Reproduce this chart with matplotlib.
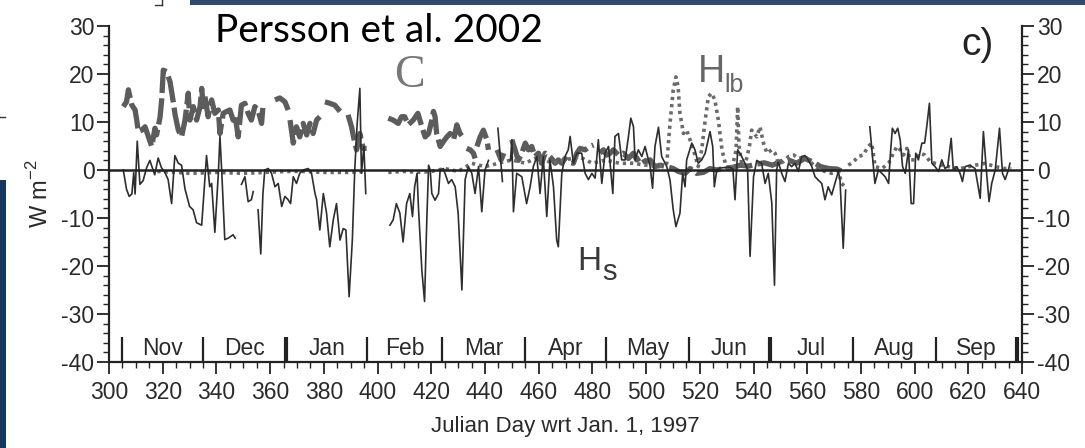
import numpy as np
import matplotlib as mpl
import matplotlib.pyplot as plt
from matplotlib.patches import Rectangle
from matplotlib.lines import Line2D
from matplotlib.ticker import MultipleLocator

mpl.rcParams['font.family'] = ['Liberation Sans', 'DejaVu Sans']
mpl.rcParams['axes.unicode_minus'] = False

nan = np.nan

# sensible heat flux H_s (thin solid), nan = gap
hs_day = [305.3, 306.5, 307.5, 308.5, 309.2, 309.7, 310.5, 311.5, 312.7, 314, 315.2, 317, 318.3, 319.5,
          320.8, 322, 323.3, 324.5, 325.8, 327, 328.3, 330, 331.3, 332.6, 334.5, 336.3, 337.5, 338.2,
          339.4, 340.7, 341.3, 342, 343.1, 344.4, 346.2, 347, 348,
          349.3, 350.6, 351.8, 353, 353.7, 354.5,
          355.5, 356.5, 357.3, 358, 359.3, 360.5, 361.8, 363, 364.3, 365.5, 366.7, 367.6, 368.6, 369.8,
          371, 372.3, 374.2, 375.4, 376.7, 377.3, 378.5, 379.8, 381, 382.2, 383.5, 384.7, 386, 387.2,
          388.2, 389.4, 390.6, 391.5, 392.4, 393.4, 394, 394.9, 395.6, 400,
          404.6, 405.8, 407, 408.3, 409.5, 410.8, 412, 413, 413.8, 414.7, 415.2, 416.5, 417.5, 418.3,
          419, 419.6, 420.2, 421.4, 422.7, 423.3, 424.5, 426.4, 427.6, 428.9, 430, 431.4, 432.6, 433.8,
          435.1, 436.3, 437.6, 438.8, 440, 441.3, 443,
          444.8, 446.5, 448,
          449.5, 450, 450.6, 451.8, 453.7, 455.5, 456.8, 458, 459.3, 460.5, 461.7, 463, 464.2, 465.5,
          466.7, 467.3, 468.6, 469.8, 471, 471.7, 472.9, 474.2, 476, 477.3, 478.5, 479.8, 481, 482.2,
          483.5, 484.7, 486, 487.6, 488.4, 489.7, 490.9, 492.2, 493.4, 494.3, 495.3, 495.9, 497.1,
          498.4, 499.6, 501.5, 502.4, 503.3, 504.6, 505.8, 507.7, 508.9, 510.1, 511.1, 512.6, 513.6,
          514.5, 515.1, 517, 518.2, 519.4, 520.7, 522, 523.8, 524.8, 525.4, 526.3, 527.5, 529, 531,
          532.3, 533.1, 534.1, 535.6, 536.8, 537.8, 538.7, 540, 541.2, 543, 544.3, 545.5, 546.8, 547.8,
          548.6, 549.2, 550.5, 551.7, 553, 554.2, 555.4, 556.7, 557.9, 559.2, 560.4, 561.7, 562.9,
          564.1, 565.4, 566.6, 567.8, 569.1, 570.3, 571.6, 572.2, 573.4, 574.3, 578,
          583.3, 585.2, 586.5, 587.8, 589, 590.3, 590.9, 591.7, 592.7, 593.7, 594.6, 595.5, 596.5,
          597.7, 598.7, 599.6, 600.4, 601.4, 602.7, 603.7, 604.5, 605.5, 606.4, 607.6, 608.9, 610.1,
          611.3, 612.3, 613.6, 614.4, 615.7, 616.9, 617.8, 618.8, 620.6, 622.5, 624.4, 625.6, 626.8,
          627.7, 628.7, 630, 631.6, 632.7, 633.7, 634.9, 635.5]
hs_val = [0, -4, -5.5, -5, -0.5, -5, 6, -3, -2.2, 0.5, 2, -1, 2.5, 0.5,
          -0.5, -2, -7, 3, 1.4, 1, -4, -7.6, -8.3, -11, -11.5, 3, -3.5, -2.8,
          -13, -0.7, 7, -0.7, -14.5, -14.2, -13.5, -14.2, nan,
          -3, -1.4, -6.6, -6.2, -4.5, nan,
          -8.3, -17.5, -5, 0, 0.3, -0.7, -3.5, -2.8, -7.6, -5.5, -6.2, -7, -1.4, -2.8,
          -0.7, 0, 0.3, -0.7, -4.9, -6.2, -12.5, -4.9, -9, -16, -10.4, -7, -14.6, -12.2,
          -12.5, -26.4, -14.6, 0, 9.7, 17, -0.7, 4.9, -4.9, nan,
          -11.5, -10.4, -7, -9, -15, -7, -4.9, -9.7, -3.5, -0.7, -7.6, -21, -27.4, -11,
          1, 0, -4.9, -6.3, -4.9, 0, 0.3, -2.8, -2, -3.5, -9, -25, -2, 0.7,
          -0.7, -4.9, 0.7, -8.7, 0, 2, nan,
          8.7, -2.4, nan,
          2, 6.3, -8.7, -0.7, -1.4, -7, -3.5, 0.7, 2.8, -4.9, 2.8, -9.7, 2.1, -3.5,
          -14.6, -16, -0.7, 2.8, 4.2, 7, 1.4, 3.5, 3.5, -0.7, -2, -0.7, -1.7, 6.3,
          -2.8, 3.5, 4.9, -4.9, 7, 7.6, 2.1, 2.1, 6.9, 10.8, 9, 2.1, 4.2,
          2.8, 4.9, 0.7, -3.8, 4.9, 8.9, 2.8, 0.7, -2.1, -8.3, -11.8, -9, -0.7,
          -3.5, 2.1, 5.6, 4.2, 1.4, 2.1, 3.5, 8, 4.9, -3.5, 0, 0.4, 0.5, 0.6,
          0.3, -6.2, 4.2, 2.8, 1.4, 0, -18, -1.4, 2, 1.4, -2.8, -0.7, -6.9, -24,
          0, 1.7, -0.7, -2.4, 1.4, 0.7, 1.4, -0.3, 2.8, 3, 2.1, 0.7, -1.4,
          -2.1, -2.8, -6.2, -3.5, -5.2, -2.8, -0.3, -2.1, -16.3, -4.2, nan,
          9, -2.8, 0, -0.7, -1.4, -2.8, 2.8, 8.7, 7.6, 8.7, 6.3, 0.7, -0.7,
          4.2, -7, -7, 3.5, 2.1, 5.6, 5.6, 9, 13.9, 1.4, 0.7, -0.3, 2.1,
          0.3, 0.7, 6.6, 0, 0.7, -0.7, -2.4, 0.7, 1, 0.3, -5.9, 8, -0.7,
          -6.6, -2.8, 0, 8.7, -0.7, -2, 0, 1.4]

# conductive flux C (thick dashed)
c_day = [305.3, 306.5, 307.2, 308.5, 309.7, 310.3, 310.9, 312.2, 313.4, 314.7, 315.9, 317.1, 317.7, 319,
         319.6, 320.2, 321.4, 322.7, 324, 324.6, 325.8, 327, 328.3, 329.5, 330.1, 331.4, 332.6, 333.9,
         334.5, 335.1, 335.7, 336.9, 338.2, 339.4, 340.7, 341.3, 342.5, 343.8, 345, 346.2, 346.9,
         348.1, 349.3, 350.6, 351.8, 353, 354.3, 355.5, 356.8, 357.4, 359,
         361.8, 363.6, 365.5, 366.7, 367,
         367.4, 368.6, 369.8, 371, 372.3, 373.6, 374.8, 376, 377.3, 378.5, 379.5,
         380.4, 382.2, 384.1, 386, 387.5,
         389, 390.3, 391.5, 392.2, 393.4, 394.6, 395.9, 400,
         404, 405.8, 407.7, 408.9, 410.1, 411.4, 413.3, 415, 416.5, 417.7, 419, 420.2, 420.8, 421.4,
         422, 423.3, 424.5, 425.8, 427, 428.3, 429.5, 430.7, 432, 432.6,
         433.2, 434.5, 435.7, 436.3, 436.6,
         437, 438.2, 439.4, 440.7, 441.3, 443,
         444.5, 446, 447, 448,
         450, 451.2, 452.4, 453.7, 455, 456.2, 457.4, 458.6, 459.9, 461.1, 462.4, 463.6, 464.8, 466.1,
         467.3, 468.6, 469.8, 471, 472.9, 474.2, 475.4, 477.3, 479.1, 480.4, 481.5,
         482.8, 484.1, 485.3, 486.6, 487.8, 489.7, 491.5, 493.4, 495.3, 496.5, 498.4, 499.6, 501.5,
         503.3, 505.2, 507.7, 510.1, 512, 514.5, 516.4, 518.8, 521.3, 523.8, 526.3, 529.4, 532, 535,
         538, 541, 544, 547, 550, 553, 556, 559, 562, 565, 568, 571, 574]
c_val = [13.2, 14.2, 16.7, 13.5, 12.5, 10.4, 8, 8.3, 9, 6.9, 4.9, 8.7, 7.3, 11,
         14.6, 20.8, 20.5, 18.4, 13.9, 11.5, 8.3, 6.9, 10.4, 16, 10.4, 13.2, 10.4, 13.2,
         17, 13.2, 15.3, 11.1, 14.6, 11.8, 12.5, 7.6, 11.8, 12.2, 12.5, 10.4, 11.5,
         6.9, 13.5, 13.9, 11.8, 10.4, 13.2, 12.5, 9.7, 13.9, nan,
         14.6, 15, 14.2, 12.5, nan,
         10.4, 5.6, 9, 6.9, 9.7, 7.3, 9.7, 7.6, 10.4, 11.1, nan,
         14.2, 13.9, 13.5, 12.2, nan,
         11.5, 9, 5.6, 4.2, 7.6, 4.5, 4.5, nan,
         10.8, 10.4, 9.7, 11.1, 11.1, 9.4, 10.4, 11.8, 9, 6.9, 7.6, 10.4, 12.2, 11.1,
         7.6, 4.9, 5.9, 6.9, 7.6, 6.3, 9.4, 7.6, 6.6, nan,
         4.5, 4.2, 3.5, 2.4, nan,
         4.9, 6.9, 8.3, 6.3, 4.2, nan,
         4.2, 2.1, 3.5, nan,
         6.3, 4.2, 2, 3.5, 5.6, 4.2, 4.9, 2.8, 3.5, 1.4, 3.5, 3.1, 2.4, 1.4,
         2.1, 1.4, 2.4, 1.7, 1.4, 3.5, 4.5, 4.2, 4.9, 5.2, nan,
         3.5, 4.2, 3.1, 3.5, 4.2, 3.1, 3.5, 2.4, 3.5, 2.1, 2.8, 1.7, 2.1,
         0.7, 1.0, 0.7, 0.3, -0.3, -0.7, 0.3, -0.7, -0.5, 0.3, 0, 0.4, 0.5, 1,
         0.8, 1.2, 1.5, 1.0, 1.7, 2.1, 1.4, 2.4, 1.7, 0.7, 0.3, 0.2, -0.5]

# longwave / latent flux H_lb (dotted)
hlb_day = [318, 325, 330, 340, 350, 358, 366, 372, 380, 390, 395, 400,
           404, 410, 416, 420, 425, 430, 435, 440, 445, 450, 455, 460, 465, 470, 475, 480, 485, 490,
           495, 500, 505, 507.7, 508.9, 510.1, 511.1, 511.9, 512.6, 513.9, 515.1, 516.4, 517.6, 519.4,
           520.7, 522, 523.2, 524.4, 525.6, 526.9, 528.1, 528.7, 530, 532, 533.5, 534.1, 534.6, 535.8,
           537, 538.5, 539.3, 541.2, 542.4, 543.7, 545, 546.8, 548, 549.2, 551, 553, 555, 557, 559.2,
           561.7, 564.1, 566.6, 569.1, 571.6, 572.8, 574.1, 574.7,
           575.3, 577.2, 579, 580.8, 582.7, 584, 585.3, 587.8, 590.3, 592.1, 593.4, 594.6, 595.8,
           597.1, 598.3, 600.2, 602, 603.9, 605.8, 607.6, 610, 612.6, 617, 622.5, 626.2, 630, 633.7, 636]
hlb_val = [-0.3, -0.5, -0.7, -0.5, -0.7, -0.5, -0.3, -0.3, -0.5, -0.5, -0.3, nan,
           -0.5, -0.3, -0.5, -0.3, 0.3, -0.3, 1.4, 0.7, 1.4, 2.1, 1.4, 2.8, 1.4, 2.1, 2.8, 1.4, 2.1, 1.4,
           1.4, 1.0, 0.7, 1.4, 9.7, 16.7, 19.4, 17.4, 11.8, 7.6, 8.3, 6.2, 4.2, 0.7,
           4.2, 10.4, 15.3, 16, 14.6, 10.4, 4.9, 3.1, 0.4, 0.3, 4.2, 13.2, 4.9, 0.7,
           1.4, 5, 8.3, 6.9, 9, 5.6, 3.5, 4.2, 3.5, 1.4, 1.7, 2.8, 3.1, 2.4, 2.8,
           1.4, 0.3, -0.3, -0.7, -0.3, -2.8, -3.5, nan,
           1.0, 1.7, 2.8, 3.1, 4.9, 5.6, 0.7, 0.3, 1.4, 3.5, 4.9, 4.2, 3.1,
           4.5, 2.1, 2.1, 3.5, 3.1, 1.7, 1.4, 1.0, 0.7, 0.3, 1.0, 1.4, 0.7, 0.3, 0.3]

# month boundaries (day of 1997) and labels
month_edges = [305, 335, 366, 396, 424, 455, 485, 516, 546, 577, 608, 638]
month_names = ['Nov', 'Dec', 'Jan', 'Feb', 'Mar', 'Apr', 'May', 'Jun', 'Jul', 'Aug', 'Sep']
thick_edges = [366, 546, 638]

fig = plt.figure(figsize=(10.85, 4.48), dpi=100)
ax = fig.add_axes([0.1005, 0.192, 0.8415, 0.750])

# data
ax.plot(c_day, c_val, color='#5c5c5c', lw=3.8, ls=(0, (5, 1.0)), solid_capstyle='butt', zorder=2)
ax.plot(hlb_day, hlb_val, color='#6a6a6a', lw=2.6, ls=(0, (0.9, 1.1)), zorder=3)
ax.plot(hs_day, hs_val, color='#2e2e2e', lw=1.2, zorder=4)
ax.axhline(0, color='#222222', lw=1.8, zorder=5)

# month separators and names along the bottom
for d in month_edges:
    ax.plot([d, d], [-40, -34.8], color='#222222', lw=3.0 if d in thick_edges else 1.6,
            solid_capstyle='butt', zorder=5)
for i, name in enumerate(month_names):
    ax.text((month_edges[i] + month_edges[i + 1]) / 2, -37.2, name, ha='center', va='center',
            fontsize=16.5, color='#2a2a2a')

# axis settings
ax.set_xlim(300, 640)
ax.set_ylim(-40, 30)
ax.xaxis.set_major_locator(MultipleLocator(20))
ax.xaxis.set_minor_locator(MultipleLocator(5))
ax.yaxis.set_major_locator(MultipleLocator(10))
ax.yaxis.set_minor_locator(MultipleLocator(2))
ax.spines['top'].set_visible(False)
for s in ['left', 'right', 'bottom']:
    ax.spines[s].set_linewidth(1.6)
    ax.spines[s].set_color('#222222')
ax.tick_params(which='both', direction='out', color='#222222', labelcolor='#2a2a2a',
               right=True, labelright=True, labelsize=16.5)
ax.tick_params(which='major', length=8.5, width=1.3, pad=2)
ax.tick_params(which='minor', length=4, width=1.0)
ax.tick_params(axis='x', which='major', pad=5)
ax.set_xlabel('Julian Day wrt Jan. 1, 1997', fontsize=16, color='#2a2a2a', labelpad=9)
ax.set_ylabel('W m$^{\\mathregular{-2}}$', fontsize=17, color='#2a2a2a', labelpad=6)

# curve labels
ax.text(406, 19.6, 'C', fontsize=33, family='Liberation Serif', color='#777777', va='center')
ax.text(519.4, 18.3, 'H', fontsize=27, color='#666666', va='baseline')
ax.text(529.0, 16.3, 'lb', fontsize=18, color='#666666', va='baseline')
ax.text(474.3, -20.8, 'H', fontsize=24, color='#3a3a3a', va='baseline')
ax.text(483.5, -23.0, 's', fontsize=21, color='#3a3a3a', va='baseline')
ax.text(617.5, 26, 'c)', fontsize=28, color='#222222', va='center', ha='left')

# slide decorations around the figure
fig.text(215 / 1085, 1 - 31 / 448, 'Persson et al. 2002', family='Lato', fontsize=28,
         ha='left', va='center', color='black')
fig.add_artist(Rectangle((190 / 1085, 1 - 5 / 448), 1, 5 / 448, transform=fig.transFigure,
                         color='#2e4a6c', lw=0))
fig.add_artist(Rectangle((0, 0), 6 / 1085, 268 / 448, transform=fig.transFigure,
                         color='#17375e', lw=0))
fig.add_artist(Line2D([162 / 1085, 162 / 1085], [1, 1 - 5 / 448], transform=fig.transFigure,
                      color='#333333', lw=1))
fig.add_artist(Line2D([155 / 1085, 162 / 1085], [1 - 5 / 448, 1 - 5 / 448], transform=fig.transFigure,
                      color='#333333', lw=1))
fig.add_artist(Line2D([0, 5 / 1085], [1 - 117 / 448, 1 - 117 / 448], transform=fig.transFigure,
                      color='#333333', lw=1))

fig.savefig('out.png', dpi=100)
plt.close('all')
